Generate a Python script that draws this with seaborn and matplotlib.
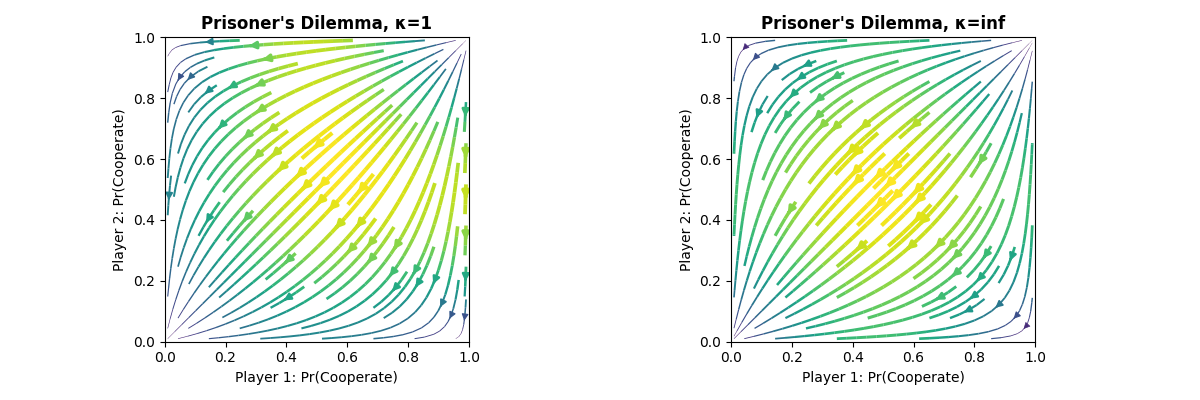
import numpy as np
import matplotlib
matplotlib.use("Agg")
import matplotlib.pyplot as plt
import seaborn as sns

sns.set_style("ticks", {"axes.edgecolor": "black", "text.color": "black",
                        "axes.labelcolor": "black", "xtick.color": "black",
                        "ytick.color": "black"})
plt.rcParams["font.family"] = ["DejaVu Sans"]

# prisoner's dilemma payoffs (row player), actions: cooperate, defect
actions = ["Cooperate", "Defect"]
payoff_row_c = [3.0, 0.0]   # R, S
payoff_row_d = [5.0, 1.0]   # T, P
kappas = [1, np.inf]
kappa_labels = ["1", "inf"]

A = np.array([payoff_row_c, payoff_row_d])


def lenient_utility(A, q, kappa):
    # q: opponent prob of cooperating (array)
    probs = [q, 1 - q]
    if np.isinf(kappa):
        return [np.full_like(q, A[i].max()) for i in range(2)]
    out = []
    for i in range(2):
        u = np.zeros_like(q)
        for j in range(2):
            le = sum(probs[k] for k in range(2) if A[i, k] <= A[i, j])
            lt = sum(probs[k] for k in range(2) if A[i, k] < A[i, j])
            eq = sum(probs[k] for k in range(2) if A[i, k] == A[i, j])
            u = u + A[i, j] * probs[j] * (le ** kappa - lt ** kappa) / eq
        out.append(u)
    return out


grid = np.linspace(0.01, 0.99, 60)
X, Y = np.meshgrid(grid, grid)

fig, axes = plt.subplots(1, 2, figsize=(12, 4), dpi=100)
for ax, kappa, lab in zip(axes, kappas, kappa_labels):
    uc1, ud1 = lenient_utility(A, Y, kappa)
    uc2, ud2 = lenient_utility(A, X, kappa)
    U = X * (1 - X) * (uc1 - ud1)
    V = Y * (1 - Y) * (uc2 - ud2)
    speed = np.sqrt(U ** 2 + V ** 2)
    lw = 3 * speed / speed.max()
    ax.streamplot(X, Y, U, V, color=speed, cmap="viridis", linewidth=lw)
    ax.set_xlim(0, 1)
    ax.set_ylim(0, 1)
    ax.set_aspect("equal")
    ax.set_title(f"Prisoner's Dilemma, κ={lab}", fontsize=12, fontweight="bold")
    ax.set_xlabel("Player 1: Pr(Cooperate)")
    ax.set_ylabel("Player 2: Pr(Cooperate)")

fig.tight_layout()
fig.savefig("out.png")
